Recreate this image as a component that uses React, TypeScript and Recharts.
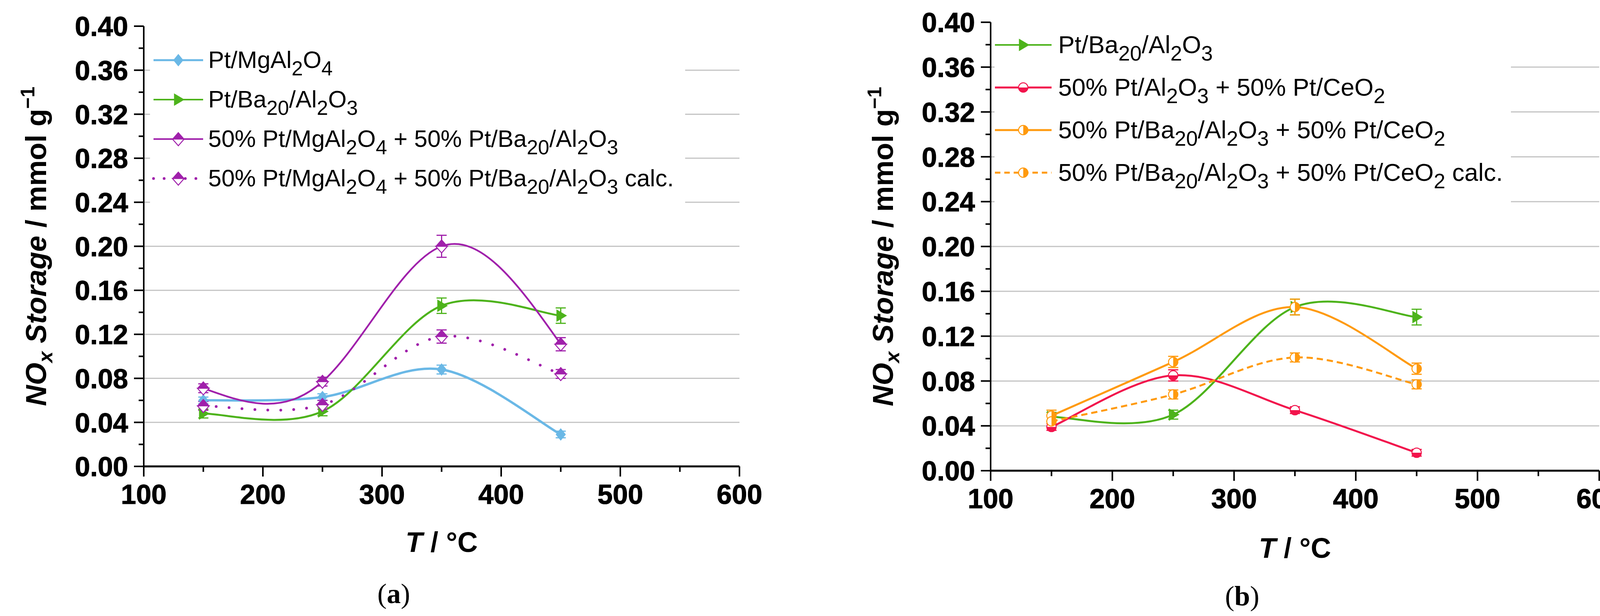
import React from 'react';
import { LineChart, Line, XAxis, YAxis, CartesianGrid, ErrorBar, Legend } from 'recharts';

const temperatures = [150, 250, 350, 450];

// panel (a)
const ptMgAl = [0.060, 0.063, 0.088, 0.029];
const ptMgAlErr = [0.003, 0.003, 0.004, 0.003];
const ptBa = [0.048, 0.050, 0.146, 0.137];
const ptBaErr = [0.004, 0.004, 0.007, 0.007];
const mixMgBa = [0.071, 0.077, 0.200, 0.111];
const mixMgBaErr = [0.004, 0.004, 0.010, 0.006];
const mixMgBaCalc = [0.055, 0.056, 0.118, 0.084];
const mixMgBaCalcErr = [0.004, 0.004, 0.006, 0.004];

// panel (b)
const mixAlCe = [0.039, 0.085, 0.054, 0.016];
const mixAlCeErr = [0.003, 0.005, 0.003, 0.003];
const mixBaCe = [0.049, 0.097, 0.146, 0.091];
const mixBaCeErr = [0.005, 0.005, 0.007, 0.005];
const mixBaCeCalc = [0.044, 0.068, 0.101, 0.077];
const mixBaCeCalcErr = [0.005, 0.004, 0.004, 0.004];

const xMajor = [100, 200, 300, 400, 500, 600];
const xMinor = [150, 250, 350, 450, 550];
const yMajor = [0, 0.04, 0.08, 0.12, 0.16, 0.2, 0.24, 0.28, 0.32, 0.36, 0.4];
const yMinor = [0.02, 0.06, 0.1, 0.14, 0.18, 0.22, 0.26, 0.3, 0.34, 0.38];
const gridValues = [0.04, 0.08, 0.12, 0.16, 0.2, 0.24, 0.28, 0.32, 0.36];

const xTicks = [...xMajor, ...xMinor].sort((a, b) => a - b);
const yTicks = [...yMajor, ...yMinor].sort((a, b) => a - b);

const FONT = '"Liberation Sans", Arial, Helvetica, sans-serif';
const SERIF = '"Liberation Serif", "Times New Roman", serif';

// uniform catmull-rom through the points (close to the Origin spline)
function catmullRom(context: any) {
  let xs: number[] = [];
  let ys: number[] = [];
  return {
    areaStart() {},
    areaEnd() {},
    lineStart() {
      xs = [];
      ys = [];
    },
    point(x: number, y: number) {
      xs.push(+x);
      ys.push(+y);
    },
    lineEnd() {
      const n = xs.length;
      if (!n) return;
      context.moveTo(xs[0], ys[0]);
      for (let i = 0; i < n - 1; i++) {
        const p = Math.max(i - 1, 0);
        const q = Math.min(i + 2, n - 1);
        context.bezierCurveTo(
          xs[i] + (xs[i + 1] - xs[p]) / 6,
          ys[i] + (ys[i + 1] - ys[p]) / 6,
          xs[i + 1] - (xs[q] - xs[i]) / 6,
          ys[i + 1] - (ys[q] - ys[i]) / 6,
          xs[i + 1],
          ys[i + 1],
        );
      }
    },
  };
}

type Marker = (cx: number, cy: number, c: string) => React.ReactNode;

const diamond: Marker = (cx, cy, c) => (
  <polygon points={`${cx},${cy - 16} ${cx + 13},${cy} ${cx},${cy + 16} ${cx - 13},${cy}`} fill={c} />
);

const triangleRight: Marker = (cx, cy, c) => (
  <polygon points={`${cx - 11},${cy - 16} ${cx + 16},${cy} ${cx - 11},${cy + 16}`} fill={c} />
);

const halfDiamond: Marker = (cx, cy, c) => (
  <g>
    <polygon
      points={`${cx - 15},${cy} ${cx + 15},${cy} ${cx},${cy + 17}`}
      fill="#fff"
      stroke={c}
      strokeWidth={2.5}
    />
    <polygon points={`${cx},${cy - 17} ${cx + 15},${cy} ${cx - 15},${cy}`} fill={c} stroke={c} strokeWidth={1.5} />
  </g>
);

const circleBottom: Marker = (cx, cy, c) => (
  <g>
    <circle cx={cx} cy={cy} r={12} fill="#fff" stroke={c} strokeWidth={2.5} />
    <path d={`M${cx - 12},${cy} A12,12 0 0 0 ${cx + 12},${cy} Z`} fill={c} />
  </g>
);

const circleRight: Marker = (cx, cy, c) => (
  <g>
    <circle cx={cx} cy={cy} r={12} fill="#fff" stroke={c} strokeWidth={2.5} />
    <path d={`M${cx},${cy - 12} A12,12 0 0 1 ${cx},${cy + 12} Z`} fill={c} />
  </g>
);

interface Series {
  key: string;
  label: string;
  values: number[];
  errors: number[];
  color: string;
  width: number;
  legendWidth: number;
  dash?: string;
  legendDash?: string;
  cap?: 'round' | 'butt';
  marker: Marker;
  curve: any;
}

const BLUE = '#6ab8e6';
const GREEN = '#4db31b';
const PURPLE = '#a020ab';
const RED = '#f2144c';
const ORANGE = '#ff9a0e';

const baSeries: Series = {
  key: 'ptBa',
  label: 'Pt/Ba_20/Al_2O_3',
  values: ptBa,
  errors: ptBaErr,
  color: GREEN,
  width: 5,
  legendWidth: 4,
  marker: triangleRight,
  curve: catmullRom,
};

const seriesA: Series[] = [
  {
    key: 'ptMgAl',
    label: 'Pt/MgAl_2O_4',
    values: ptMgAl,
    errors: ptMgAlErr,
    color: BLUE,
    width: 6,
    legendWidth: 5,
    marker: diamond,
    curve: catmullRom,
  },
  baSeries,
  {
    key: 'mixMgBa',
    label: '50% Pt/MgAl_2O_4 + 50% Pt/Ba_20/Al_2O_3',
    values: mixMgBa,
    errors: mixMgBaErr,
    color: PURPLE,
    width: 4.5,
    legendWidth: 4,
    marker: halfDiamond,
    curve: 'natural',
  },
  {
    key: 'mixMgBaCalc',
    label: '50% Pt/MgAl_2O_4 + 50% Pt/Ba_20/Al_2O_3 calc.',
    values: mixMgBaCalc,
    errors: mixMgBaCalcErr,
    color: PURPLE,
    width: 7,
    legendWidth: 7,
    dash: '0.1 33',
    legendDash: '0.1 27',
    cap: 'round',
    marker: halfDiamond,
    curve: catmullRom,
  },
];

const seriesB: Series[] = [
  baSeries,
  {
    key: 'mixAlCe',
    label: '50% Pt/Al_2O_3 + 50% Pt/CeO_2',
    values: mixAlCe,
    errors: mixAlCeErr,
    color: RED,
    width: 5,
    legendWidth: 5,
    marker: circleBottom,
    curve: catmullRom,
  },
  {
    key: 'mixBaCe',
    label: '50% Pt/Ba_20/Al_2O_3 + 50% Pt/CeO_2',
    values: mixBaCe,
    errors: mixBaCeErr,
    color: ORANGE,
    width: 5,
    legendWidth: 5,
    marker: circleRight,
    curve: catmullRom,
  },
  {
    key: 'mixBaCeCalc',
    label: '50% Pt/Ba_20/Al_2O_3 + 50% Pt/CeO_2 calc.',
    values: mixBaCeCalc,
    errors: mixBaCeCalcErr,
    color: ORANGE,
    width: 5,
    legendWidth: 5,
    dash: '16 10',
    legendDash: '14 10',
    marker: circleRight,
    curve: catmullRom,
  },
];

function buildRows(series: Series[]) {
  return temperatures.map((t, i) => {
    const row: Record<string, number> = { T: t };
    series.forEach((s) => {
      row[s.key] = s.values[i];
      row[`${s.key}Err`] = s.errors[i];
    });
    return row;
  });
}

// "Al_2O_3" -> Al<sub>2</sub>O<sub>3</sub>
function chem(label: string) {
  const parts = label.split(/_(\d+)/);
  return parts.map((p, i) =>
    i % 2 === 1 ? (
      <span key={i} style={{ fontSize: '0.85em', position: 'relative', top: '0.36em' }}>
        {p}
      </span>
    ) : (
      <span key={i}>{p}</span>
    ),
  );
}

const isMajorX = (v: number) => xMajor.includes(v);
const isMajorY = (v: number) => yMajor.some((m) => Math.abs(m - v) < 1e-6);

// bold tick numbers, a hair heavier like the original
const tickText = { fontWeight: 700, fontFamily: FONT, fill: '#000', stroke: '#000', strokeWidth: 1.2 };

function LeftTick(props: any) {
  const { x, y, payload } = props;
  const major = isMajorY(payload.value);
  return (
    <g>
      <line x1={x} x2={x - (major ? 25 : 13)} y1={y} y2={y} stroke="#000" strokeWidth={4} />
      {major && (
        <text x={x - 40} y={y} dy="0.36em" textAnchor="end" fontSize={70} {...tickText}>
          {payload.value.toFixed(2)}
        </text>
      )}
    </g>
  );
}

function RightTick(props: any) {
  const { x, y, payload } = props;
  const major = isMajorY(payload.value);
  return <line x1={x} x2={x - (major ? 24 : 13)} y1={y} y2={y} stroke="#000" strokeWidth={4} />;
}

function BottomTick(props: any) {
  const { x, y, payload } = props;
  const major = isMajorX(payload.value);
  return (
    <g>
      <line x1={x} x2={x} y1={y} y2={y + (major ? 26 : 14)} stroke="#000" strokeWidth={4} />
      {major && (
        <text x={x} y={y + 96} textAnchor="middle" fontSize={70} {...tickText}>
          {payload.value}
        </text>
      )}
    </g>
  );
}

function TopTick(props: any) {
  const { x, y } = props;
  return <line x1={x} x2={x} y1={y} y2={y + 13} stroke="#000" strokeWidth={4} />;
}

interface PanelProps {
  series: Series[];
  width: number;
  height: number;
  top: number;
  right: number;
  yAxisWidth: number;
  xAxisHeight: number;
  xTitleGap: number;
  legend: {
    left: number;
    top: number;
    width: number;
    height: number;
    padTop: number;
    padLeft: number;
    row: number;
    sample: number;
    gap: number;
    font: number;
  };
}

function LegendBox({ series, cfg }: { series: Series[]; cfg: PanelProps['legend'] }) {
  return (
    <div
      style={{
        background: '#fff',
        width: cfg.width,
        height: cfg.height,
        paddingTop: cfg.padTop,
        paddingLeft: cfg.padLeft,
        boxSizing: 'border-box',
      }}
    >
      {series.map((s) => (
        <div key={s.key} style={{ display: 'flex', alignItems: 'center', height: cfg.row }}>
          <svg width={cfg.sample} height={40} style={{ flex: 'none', overflow: 'visible' }}>
            <line
              x1={0}
              x2={cfg.sample}
              y1={20}
              y2={20}
              stroke={s.color}
              strokeWidth={s.legendWidth}
              strokeDasharray={s.legendDash}
              strokeLinecap={s.cap ?? 'butt'}
            />
            {s.marker(cfg.sample / 2, 20, s.color)}
          </svg>
          <span
            style={{
              marginLeft: cfg.gap,
              fontSize: cfg.font,
              fontFamily: FONT,
              whiteSpace: 'nowrap',
              lineHeight: 1,
              color: '#000',
            }}
          >
            {chem(s.label)}
          </span>
        </div>
      ))}
    </div>
  );
}

function Panel(p: PanelProps) {
  const rows = buildRows(p.series);
  const plotLeft = p.yAxisWidth;
  const plotTop = p.top;
  const plotW = p.width - p.right - p.yAxisWidth;
  const plotH = p.height - p.top - p.xAxisHeight;

  const yTitle = (props: any) => {
    const vb = props?.viewBox;
    const axisX = vb ? vb.x + vb.width : plotLeft;
    const cy = vb ? vb.y + vb.height / 2 : plotTop + plotH / 2;
    const lx = axisX - 250;
    return (
      <text
        x={lx}
        y={cy}
        transform={`rotate(-90 ${lx} ${cy})`}
        textAnchor="middle"
        fontSize={74}
        fontWeight={700}
        fontFamily={FONT}
        fill="#000"
      >
        <tspan fontStyle="italic">NO</tspan>
        <tspan fontStyle="italic" fontSize={52} dy={16}>
          x
        </tspan>
        <tspan fontStyle="italic" dy={-16}>
          {' Storage'}
        </tspan>
        <tspan>{' / mmol g'}</tspan>
        <tspan fontSize={50} dy={-30}>
          {'\u22121'}
        </tspan>
      </text>
    );
  };

  const xTitle = (props: any) => {
    const vb = props?.viewBox;
    const cx = vb ? vb.x + vb.width / 2 : plotLeft + plotW / 2;
    const axisY = vb ? vb.y : plotTop + plotH;
    return (
      <text
        x={cx}
        y={axisY + p.xTitleGap}
        textAnchor="middle"
        fontSize={72}
        fontWeight={700}
        fontFamily={FONT}
        fill="#000"
      >
        <tspan fontStyle="italic">T</tspan>
        <tspan>{' / \u00b0C'}</tspan>
      </text>
    );
  };

  return (
    <LineChart width={p.width} height={p.height} data={rows} margin={{ top: p.top, right: p.right, bottom: 0, left: 0 }}>
      <CartesianGrid vertical={false} horizontalValues={gridValues} stroke="#c4c4c4" strokeWidth={3} />
      <XAxis
        dataKey="T"
        type="number"
        domain={[100, 600]}
        ticks={xTicks}
        interval={0}
        height={p.xAxisHeight}
        tickSize={0}
        tickMargin={0}
        tickLine={false}
        tick={<BottomTick />}
        axisLine={{ stroke: '#000', strokeWidth: 5 }}
        label={xTitle}
      />
      <XAxis
        xAxisId="top"
        orientation="top"
        dataKey="T"
        type="number"
        domain={[100, 600]}
        ticks={xTicks}
        interval={0}
        height={0}
        tickSize={0}
        tickMargin={0}
        tickLine={false}
        tick={<TopTick />}
        axisLine={{ stroke: '#000', strokeWidth: 4 }}
      />
      <YAxis
        type="number"
        domain={[0, 0.4]}
        ticks={yTicks}
        interval={0}
        width={p.yAxisWidth}
        tickSize={0}
        tickMargin={0}
        tickLine={false}
        tick={<LeftTick />}
        axisLine={{ stroke: '#000', strokeWidth: 4 }}
        label={yTitle}
      />
      <YAxis
        yAxisId="right"
        orientation="right"
        type="number"
        domain={[0, 0.4]}
        ticks={yTicks}
        interval={0}
        width={0}
        tickSize={0}
        tickMargin={0}
        tickLine={false}
        tick={<RightTick />}
        axisLine={{ stroke: '#000', strokeWidth: 4 }}
      />
      <Line
        xAxisId="top"
        yAxisId="right"
        dataKey={p.series[0].key}
        stroke="none"
        dot={false}
        activeDot={false}
        legendType="none"
        isAnimationActive={false}
      />
      {p.series.map((s) => (
        <Line
          key={s.key}
          dataKey={s.key}
          type={s.curve}
          stroke={s.color}
          strokeWidth={s.width}
          strokeDasharray={s.dash}
          strokeLinecap={s.cap ?? 'butt'}
          dot={(d: any) => <g key={`${s.key}-${d.index}`}>{s.marker(d.cx, d.cy, s.color)}</g>}
          activeDot={false}
          isAnimationActive={false}
        >
          <ErrorBar dataKey={`${s.key}Err`} width={13} strokeWidth={3} stroke={s.color} direction="y" />
        </Line>
      ))}
      <Legend
        layout="vertical"
        align="center"
        verticalAlign="middle"
        wrapperStyle={{ left: p.legend.left, top: p.legend.top, width: p.legend.width, height: p.legend.height }}
        content={() => <LegendBox series={p.series} cfg={p.legend} />}
      />
    </LineChart>
  );
}

export default function App() {
  return (
    <div style={{ position: 'absolute', left: 0, top: 0, width: 4174, height: 1577, background: '#fff' }}>
      <div style={{ position: 'absolute', left: 0, top: 0 }}>
        <Panel
          series={seriesA}
          width={2060}
          height={1577}
          top={67}
          right={167}
          yAxisWidth={368}
          xAxisHeight={383}
          xTitleGap={219}
          legend={{
            left: 384,
            top: 88,
            width: 1370,
            height: 470,
            padTop: 15,
            padLeft: 9,
            row: 101,
            sample: 127,
            gap: 13,
            font: 61,
          }}
        />
      </div>
      <div style={{ position: 'absolute', left: 2090, top: 0 }}>
        <Panel
          series={seriesB}
          width={2084}
          height={1577}
          top={57}
          right={80}
          yAxisWidth={446}
          xAxisHeight={372}
          xTitleGap={223}
          legend={{
            left: 456,
            top: 60,
            width: 1322,
            height: 505,
            padTop: 0,
            padLeft: 1,
            row: 109,
            sample: 145,
            gap: 17,
            font: 63,
          }}
        />
      </div>
      <div
        style={{
          position: 'absolute',
          left: 1008,
          top: 1520,
          transform: 'translate(-50%, -50%)',
          fontFamily: SERIF,
          fontSize: 72,
          lineHeight: 1,
        }}
      >
        (<b>a</b>)
      </div>
      <div
        style={{
          position: 'absolute',
          left: 3180,
          top: 1526,
          transform: 'translate(-50%, -50%)',
          fontFamily: SERIF,
          fontSize: 72,
          lineHeight: 1,
        }}
      >
        (<b>b</b>)
      </div>
    </div>
  );
}
